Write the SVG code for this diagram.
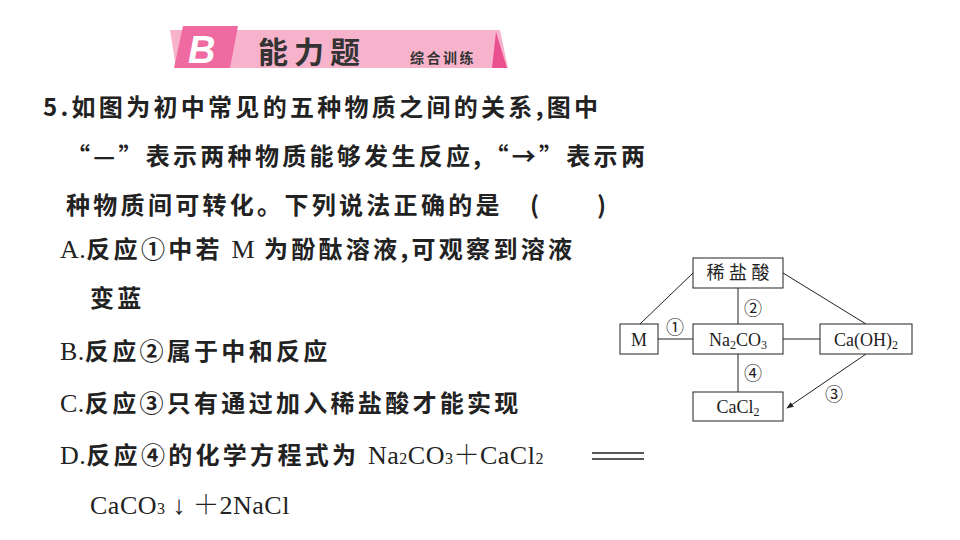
<svg xmlns="http://www.w3.org/2000/svg" width="960" height="540" viewBox="0 0 960 540">
<defs>
<marker id="ah" viewBox="0 0 10 10" refX="9" refY="5" markerWidth="7" markerHeight="7" orient="auto"><path d="M0,1 L10,5 L0,9 Z" fill="#222"/></marker>
</defs>
<style>
.q{font-family:"Noto Sans CJK SC",sans-serif;font-size:24px;font-weight:bold;fill:#222;letter-spacing:3.3px}
.s{font-family:"Liberation Serif","Noto Serif CJK SC",serif;font-size:26px;font-weight:normal;fill:#222;letter-spacing:0.5px}
.b{fill:#fff;stroke:#222;stroke-width:1}
.t{font-family:"Liberation Serif","Noto Sans CJK SC",serif;font-size:18px;fill:#222;text-anchor:middle}
.c{stroke:#222;stroke-width:1;fill:none}
</style>
<rect width="960" height="540" fill="#fff"/>
<g id="banner">
<polygon points="170,30 500,30 508,68 176,68" fill="#f7b3cc"/>
<polygon points="183,26 238,26 230,68 174,68" fill="#ef6aa0"/>
<polygon points="496,32 507,68 492,68" fill="#ea4f8f"/>
<text x="188" y="63" font-family="Liberation Sans,sans-serif" font-size="38" font-weight="bold" font-style="italic" fill="#fff">B</text>
<text x="258" y="63" font-family="Noto Sans CJK SC,sans-serif" font-size="30" font-weight="bold" fill="#333" letter-spacing="6">能力题</text>
<text x="410" y="63" font-family="Noto Sans CJK SC,sans-serif" font-size="14" font-weight="bold" fill="#333" letter-spacing="2.5">综合训练</text>
</g>
<g id="question">
<text class="q" x="43" y="116">5.如图为初中常见的五种物质之间的关系,图中</text>
<text class="q" x="66" y="165">“—”表示两种物质能够发生反应,“→”表示两</text>
<text class="q" x="66" y="214">种物质间可转化。下列说法正确的是　(　　)</text>
<text class="q" x="60" y="258"><tspan class="s">A.</tspan>反应①中若 <tspan class="s">M</tspan> 为酚酞溶液,可观察到溶液</text>
<text class="q" x="90" y="307">变蓝</text>
<text class="q" x="60" y="360"><tspan class="s">B.</tspan>反应②属于中和反应</text>
<text class="q" x="60" y="412"><tspan class="s">C.</tspan>反应③只有通过加入稀盐酸才能实现</text>
<text class="q" x="60" y="464"><tspan class="s">D.</tspan>反应④的化学方程式为 <tspan class="s">Na<tspan font-size="16">2</tspan>CO<tspan font-size="16">3</tspan>＋CaCl<tspan font-size="16">2</tspan></tspan></text>
<line x1="592" y1="453" x2="644" y2="453" stroke="#222" stroke-width="1.5"/>
<line x1="592" y1="459" x2="644" y2="459" stroke="#222" stroke-width="1.5"/>
<text class="s" x="90" y="514">CaCO<tspan font-size="16">3</tspan> ↓ ＋2NaCl</text>
</g>
<g id="connectors">
<line class="c" x1="640" y1="324" x2="693" y2="273"/>
<line class="c" x1="783" y1="273" x2="866" y2="324"/>
<line class="c" x1="738" y1="288" x2="738" y2="324"/>
<line class="c" x1="738" y1="354" x2="738" y2="392"/>
<line class="c" x1="658" y1="339" x2="693" y2="339"/>
<line class="c" x1="783" y1="339" x2="820" y2="339"/>
<line class="c" x1="866" y1="354" x2="787" y2="408" marker-end="url(#ah)"/>
<text class="t" x="675" y="334">①</text>
<text class="t" x="753" y="315">②</text>
<text class="t" x="753" y="380">④</text>
<text class="t" x="834" y="401">③</text>
</g>
<g id="n-hcl"><rect class="b" x="693" y="258" width="90" height="30"/><text class="t" x="738" y="279">稀 盐 酸</text></g>
<g id="n-m"><rect class="b" x="620" y="324" width="38" height="30"/><text class="t" x="639" y="346">M</text></g>
<g id="n-na2co3"><rect class="b" x="693" y="324" width="90" height="30"/><text class="t" x="738" y="346">Na<tspan font-size="12" dy="3">2</tspan><tspan dy="-3">CO</tspan><tspan font-size="12" dy="3">3</tspan></text></g>
<g id="n-caoh2"><rect class="b" x="820" y="324" width="92" height="30"/><text class="t" x="866" y="346">Ca(OH)<tspan font-size="12" dy="3">2</tspan></text></g>
<g id="n-cacl2"><rect class="b" x="693" y="392" width="90" height="29"/><text class="t" x="738" y="413">CaCl<tspan font-size="12" dy="3">2</tspan></text></g>
</svg>
